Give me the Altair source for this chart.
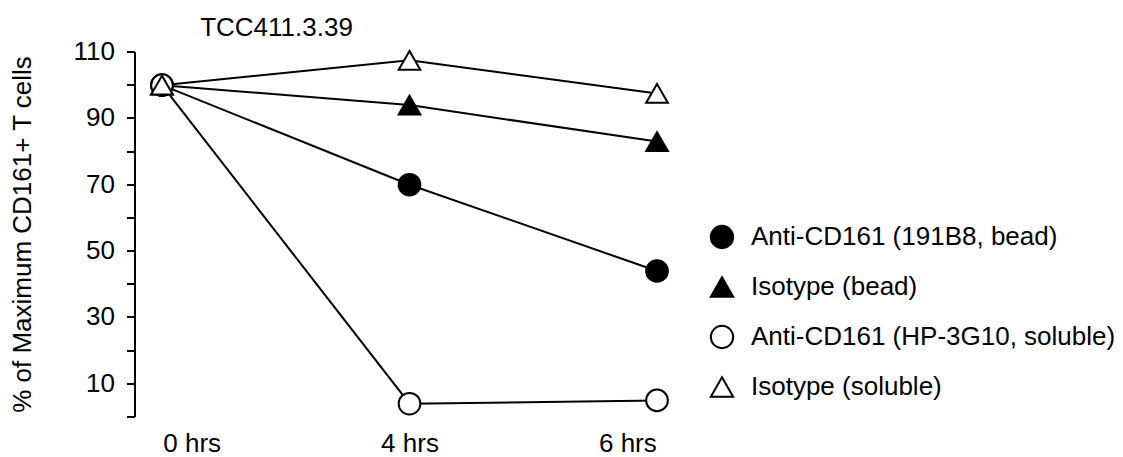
import altair as alt
import pandas as pd

times = ["0 hrs", "4 hrs", "6 hrs"]
series_names = [
    "Anti-CD161 (191B8, bead)",
    "Isotype (bead)",
    "Anti-CD161 (HP-3G10, soluble)",
    "Isotype (soluble)",
]
anti_bead = [100, 70, 44]
iso_bead = [100, 94, 83]
anti_sol = [100, 4, 5]
iso_sol = [100, 107.5, 97.5]
shapes = ["circle", "triangle-up", "circle", "triangle-up"]
fills = ["black", "black", "white", "white"]
strokes = ["black", "black", "black", "black"]
y_tick_values = [0, 10, 20, 30, 40, 50, 60, 70, 80, 90, 100, 110]

rows = []
for i, (name, vals) in enumerate(zip(series_names, [anti_bead, iso_bead, anti_sol, iso_sol])):
    for t, v in zip(times, vals):
        rows.append({"series": name, "time": t, "value": v, "order": i})
df = pd.DataFrame(rows)
labels_df = pd.DataFrame({"time": times})

FONT = "Liberation Sans"
FS = 26
W, H = 549, 365

x_pts = alt.X("time:O", sort=times, scale=alt.Scale(type="point", padding=0.109), axis=None)
y_scale = alt.Scale(domain=[0, 110], nice=False, zero=False)
y_enc = alt.Y(
    "value:Q",
    scale=y_scale,
    axis=alt.Axis(
        values=y_tick_values,
        labelExpr="(datum.value / 10) % 2 == 1 ? datum.label : ''",
        labelOverlap=False,
        title="% of Maximum CD161+ T cells",
        grid=False,
        translate=0,
        tickSize=8,
        tickWidth=2,
        domainWidth=2,
        domainColor="black",
        tickColor="black",
        labelColor="black",
        labelFontSize=FS,
        labelFont=FONT,
        labelPadding=12,
        titleFont=FONT,
        titleFontSize=FS,
        titleFontWeight="normal",
        titleColor="black",
        titlePadding=38,
    ),
)

leg = alt.Legend(
    title=None,
    orient="none",
    legendX=574,
    legendY=172,
    labelFont=FONT,
    labelFontSize=FS,
    labelColor="black",
    symbolSize=500,
    symbolStrokeColor="black",
    symbolStrokeWidth=2,
    symbolOpacity=1,
    rowPadding=20,
    labelOffset=16,
    labelLimit=0,
)

lines = alt.Chart(df).mark_line(color="black", strokeWidth=2).encode(
    x=x_pts, y=y_enc, detail="series:N"
)

points = alt.Chart(df).mark_point(
    filled=False, strokeWidth=2, size=470, opacity=1
).encode(
    x=x_pts,
    y=y_enc,
    shape=alt.Shape("series:N", sort=series_names, scale=alt.Scale(domain=series_names, range=shapes), legend=leg),
    fill=alt.Fill("series:N", sort=series_names, scale=alt.Scale(domain=series_names, range=fills), legend=leg),
    stroke=alt.Stroke("series:N", sort=series_names, scale=alt.Scale(domain=series_names, range=strokes), legend=leg),
    order=alt.Order("order:Q"),
)

labels = alt.Chart(labels_df).mark_point(opacity=0).encode(
    x=alt.X(
        "time:O",
        sort=times,
        scale=alt.Scale(type="point", padding=0.26),
        axis=alt.Axis(
            title=None,
            domain=False,
            ticks=False,
            tickSize=0,
            labelAngle=0,
            labelFont=FONT,
            labelFontSize=FS,
            labelColor="black",
            labelPadding=13,
            grid=False,
        ),
    ),
    y=alt.value(H),
)

chart = (
    alt.layer(lines, points, labels)
    .resolve_scale(x="independent")
    .properties(
        width=W,
        height=H,
        background="white",
        title=alt.TitleParams(
            "TCC411.3.39",
            font=FONT,
            fontSize=FS,
            fontWeight="normal",
            color="black",
            anchor="middle",
            frame="group",
            dx=-133,
            offset=-2,
        ),
        autosize=alt.AutoSizeParams(type="none"),
        padding={"left": 135, "top": 52, "right": 1123 - 135 - W, "bottom": 457 - 52 - H},
    )
    .configure_view(stroke=None)
)

chart.save("out.html", embed_options={"renderer": "svg", "actions": False})
